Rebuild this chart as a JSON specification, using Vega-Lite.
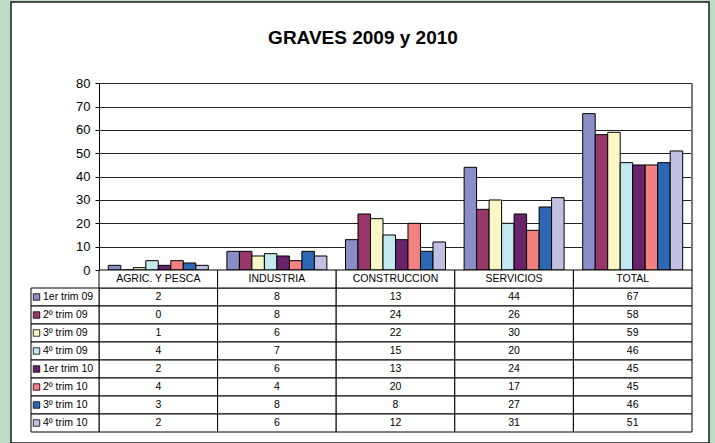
{
  "$schema": "https://vega.github.io/schema/vega-lite/v6.json",
  "width": 698,
  "height": 441,
  "autosize": {"type": "none"},
  "padding": {"left": 11, "top": 2, "right": 6, "bottom": 0},
  "background": "#bfdcc6",
  "view": {"fill": "white", "stroke": "#1a1a1a", "strokeWidth": 1.5},
  "config": {"font": "Liberation Sans", "text": {"font": "Liberation Sans", "color": "black"}},
  "title": {
    "text": "GRAVES 2009 y 2010",
    "frame": "group",
    "anchor": "middle",
    "offset": -61,
    "dx": 3,
    "fontSize": 19,
    "fontWeight": "bold",
    "font": "Liberation Sans",
    "color": "black",
    "baseline": "alphabetic"
  },
  "datasets": {
    "graves": [
      {"cat": "AGRIC. Y PESCA", "serie": "1er trim 09", "valor": 2},
      {"cat": "AGRIC. Y PESCA", "serie": "2º trim 09", "valor": 0},
      {"cat": "AGRIC. Y PESCA", "serie": "3º trim 09", "valor": 1},
      {"cat": "AGRIC. Y PESCA", "serie": "4º trim 09", "valor": 4},
      {"cat": "AGRIC. Y PESCA", "serie": "1er trim 10", "valor": 2},
      {"cat": "AGRIC. Y PESCA", "serie": "2º trim 10", "valor": 4},
      {"cat": "AGRIC. Y PESCA", "serie": "3º trim 10", "valor": 3},
      {"cat": "AGRIC. Y PESCA", "serie": "4º trim 10", "valor": 2},
      {"cat": "INDUSTRIA", "serie": "1er trim 09", "valor": 8},
      {"cat": "INDUSTRIA", "serie": "2º trim 09", "valor": 8},
      {"cat": "INDUSTRIA", "serie": "3º trim 09", "valor": 6},
      {"cat": "INDUSTRIA", "serie": "4º trim 09", "valor": 7},
      {"cat": "INDUSTRIA", "serie": "1er trim 10", "valor": 6},
      {"cat": "INDUSTRIA", "serie": "2º trim 10", "valor": 4},
      {"cat": "INDUSTRIA", "serie": "3º trim 10", "valor": 8},
      {"cat": "INDUSTRIA", "serie": "4º trim 10", "valor": 6},
      {"cat": "CONSTRUCCION", "serie": "1er trim 09", "valor": 13},
      {"cat": "CONSTRUCCION", "serie": "2º trim 09", "valor": 24},
      {"cat": "CONSTRUCCION", "serie": "3º trim 09", "valor": 22},
      {"cat": "CONSTRUCCION", "serie": "4º trim 09", "valor": 15},
      {"cat": "CONSTRUCCION", "serie": "1er trim 10", "valor": 13},
      {"cat": "CONSTRUCCION", "serie": "2º trim 10", "valor": 20},
      {"cat": "CONSTRUCCION", "serie": "3º trim 10", "valor": 8},
      {"cat": "CONSTRUCCION", "serie": "4º trim 10", "valor": 12},
      {"cat": "SERVICIOS", "serie": "1er trim 09", "valor": 44},
      {"cat": "SERVICIOS", "serie": "2º trim 09", "valor": 26},
      {"cat": "SERVICIOS", "serie": "3º trim 09", "valor": 30},
      {"cat": "SERVICIOS", "serie": "4º trim 09", "valor": 20},
      {"cat": "SERVICIOS", "serie": "1er trim 10", "valor": 24},
      {"cat": "SERVICIOS", "serie": "2º trim 10", "valor": 17},
      {"cat": "SERVICIOS", "serie": "3º trim 10", "valor": 27},
      {"cat": "SERVICIOS", "serie": "4º trim 10", "valor": 31},
      {"cat": "TOTAL", "serie": "1er trim 09", "valor": 67},
      {"cat": "TOTAL", "serie": "2º trim 09", "valor": 58},
      {"cat": "TOTAL", "serie": "3º trim 09", "valor": 59},
      {"cat": "TOTAL", "serie": "4º trim 09", "valor": 46},
      {"cat": "TOTAL", "serie": "1er trim 10", "valor": 45},
      {"cat": "TOTAL", "serie": "2º trim 10", "valor": 45},
      {"cat": "TOTAL", "serie": "3º trim 10", "valor": 46},
      {"cat": "TOTAL", "serie": "4º trim 10", "valor": 51}
    ],
    "categorias": [
      {"cat": "AGRIC. Y PESCA"}, {"cat": "INDUSTRIA"}, {"cat": "CONSTRUCCION"}, {"cat": "SERVICIOS"}, {"cat": "TOTAL"}
    ],
    "series": [
      {"serie": "1er trim 09"}, {"serie": "2º trim 09"}, {"serie": "3º trim 09"}, {"serie": "4º trim 09"},
      {"serie": "1er trim 10"}, {"serie": "2º trim 10"}, {"serie": "3º trim 10"}, {"serie": "4º trim 10"}
    ]
  },
  "layer": [
    {
      "data": {"name": "graves"},
      "mark": {"type": "bar", "stroke": "black", "strokeWidth": 1},
      "encoding": {
        "x": {"field": "cat", "type": "nominal", "sort": null,
          "scale": {"domain": ["AGRIC. Y PESCA", "INDUSTRIA", "CONSTRUCCION", "SERVICIOS", "TOTAL"], "range": [88, 681], "paddingInner": 0.157, "paddingOuter": 0.0785},
          "axis": null},
        "xOffset": {"field": "serie", "type": "nominal", "sort": null,
          "scale": {"domain": ["1er trim 09", "2º trim 09", "3º trim 09", "4º trim 09", "1er trim 10", "2º trim 10", "3º trim 10", "4º trim 10"], "paddingInner": 0, "paddingOuter": 0}},
        "y": {"field": "valor", "type": "quantitative",
          "scale": {"domain": [0, 80], "range": [268, 81.3], "nice": false, "zero": true},
          "axis": {"values": [0, 10, 20, 30, 40, 50, 60, 70, 80], "offset": -88, "title": null, "grid": true,
            "gridColor": "#222222", "gridWidth": 1, "domainColor": "black", "domainWidth": 1, "tickColor": "black",
            "tickSize": 4, "labelFontSize": 13, "labelColor": "black", "labelPadding": 5, "labelFont": "Liberation Sans"}},
        "color": {"field": "serie", "type": "nominal",
          "scale": {"domain": ["1er trim 09", "2º trim 09", "3º trim 09", "4º trim 09", "1er trim 10", "2º trim 10", "3º trim 10", "4º trim 10"],
            "range": ["#8a8ec6", "#98386a", "#faf7c6", "#c3e7ef", "#68236b", "#f28181", "#2d67b3", "#c2c0e0"]},
          "legend": null}
      }
    },
    {
      "data": {"values": [{}]},
      "mark": {"type": "rule", "stroke": "#7a7a7a", "strokeWidth": 2},
      "encoding": {
        "x": {"datum": 1, "type": "quantitative", "scale": {"domain": [0, 1], "range": [88, 681]}, "axis": null},
        "y": {"datum": 0, "type": "quantitative", "scale": {"domain": [0, 80], "range": [268, 81.3], "nice": false}, "axis": null},
        "y2": {"datum": 80}
      }
    },
    {
      "data": {"name": "graves"},
      "mark": {"type": "rect", "fill": "white", "stroke": "black", "strokeWidth": 1},
      "encoding": {
        "x": {"field": "cat", "type": "nominal", "sort": null,
          "scale": {"domain": ["AGRIC. Y PESCA", "INDUSTRIA", "CONSTRUCCION", "SERVICIOS", "TOTAL"], "range": [88, 681], "paddingInner": 0, "paddingOuter": 0}, "axis": null},
        "y": {"field": "serie", "type": "nominal", "sort": null,
          "scale": {"domain": ["1er trim 09", "2º trim 09", "3º trim 09", "4º trim 09", "1er trim 10", "2º trim 10", "3º trim 10", "4º trim 10"], "range": [286, 430], "paddingInner": 0, "paddingOuter": 0}, "axis": null}
      }
    },
    {
      "data": {"name": "graves"},
      "mark": {"type": "text", "fontSize": 10.5, "font": "Liberation Sans", "color": "black", "align": "center", "baseline": "middle"},
      "encoding": {
        "x": {"field": "cat", "type": "nominal", "sort": null,
          "scale": {"domain": ["AGRIC. Y PESCA", "INDUSTRIA", "CONSTRUCCION", "SERVICIOS", "TOTAL"], "range": [88, 681], "paddingInner": 0, "paddingOuter": 0}, "axis": null},
        "y": {"field": "serie", "type": "nominal", "sort": null,
          "scale": {"domain": ["1er trim 09", "2º trim 09", "3º trim 09", "4º trim 09", "1er trim 10", "2º trim 10", "3º trim 10", "4º trim 10"], "range": [286, 430], "paddingInner": 0, "paddingOuter": 0}, "axis": null},
        "text": {"field": "valor", "type": "quantitative"}
      }
    },
    {
      "data": {"name": "categorias"},
      "mark": {"type": "rect", "fill": "white", "stroke": "black", "strokeWidth": 1},
      "encoding": {
        "x": {"field": "cat", "type": "nominal", "sort": null,
          "scale": {"domain": ["AGRIC. Y PESCA", "INDUSTRIA", "CONSTRUCCION", "SERVICIOS", "TOTAL"], "range": [88, 681], "paddingInner": 0, "paddingOuter": 0}, "axis": null},
        "y": {"datum": "cabecera", "type": "nominal", "scale": {"domain": ["cabecera"], "range": [268, 286], "paddingInner": 0, "paddingOuter": 0}, "axis": null}
      }
    },
    {
      "data": {"name": "categorias"},
      "mark": {"type": "text", "fontSize": 10.5, "font": "Liberation Sans", "color": "black", "align": "center", "baseline": "middle"},
      "encoding": {
        "x": {"field": "cat", "type": "nominal", "sort": null,
          "scale": {"domain": ["AGRIC. Y PESCA", "INDUSTRIA", "CONSTRUCCION", "SERVICIOS", "TOTAL"], "range": [88, 681], "paddingInner": 0, "paddingOuter": 0}, "axis": null},
        "y": {"datum": "cabecera", "type": "nominal", "scale": {"domain": ["cabecera"], "range": [268, 286], "paddingInner": 0, "paddingOuter": 0}, "axis": null},
        "text": {"field": "cat", "type": "nominal"}
      }
    },
    {
      "data": {"name": "series"},
      "mark": {"type": "rect", "fill": "white", "stroke": "black", "strokeWidth": 1},
      "encoding": {
        "x": {"datum": "leyenda", "type": "nominal", "scale": {"domain": ["leyenda"], "range": [20, 88], "paddingInner": 0, "paddingOuter": 0}, "axis": null},
        "y": {"field": "serie", "type": "nominal", "sort": null,
          "scale": {"domain": ["1er trim 09", "2º trim 09", "3º trim 09", "4º trim 09", "1er trim 10", "2º trim 10", "3º trim 10", "4º trim 10"], "range": [286, 430], "paddingInner": 0, "paddingOuter": 0}, "axis": null}
      }
    },
    {
      "data": {"name": "series"},
      "mark": {"type": "point", "shape": "square", "filled": true, "size": 42, "stroke": "black", "strokeWidth": 0.8, "opacity": 1, "xOffset": -28.5},
      "encoding": {
        "x": {"datum": "leyenda", "type": "nominal", "scale": {"domain": ["leyenda"], "range": [20, 88], "paddingInner": 0, "paddingOuter": 0}, "axis": null},
        "y": {"field": "serie", "type": "nominal", "sort": null,
          "scale": {"domain": ["1er trim 09", "2º trim 09", "3º trim 09", "4º trim 09", "1er trim 10", "2º trim 10", "3º trim 10", "4º trim 10"], "range": [286, 430], "paddingInner": 0, "paddingOuter": 0}, "axis": null},
        "color": {"field": "serie", "type": "nominal",
          "scale": {"domain": ["1er trim 09", "2º trim 09", "3º trim 09", "4º trim 09", "1er trim 10", "2º trim 10", "3º trim 10", "4º trim 10"],
            "range": ["#8a8ec6", "#98386a", "#faf7c6", "#c3e7ef", "#68236b", "#f28181", "#2d67b3", "#c2c0e0"]},
          "legend": null}
      }
    },
    {
      "data": {"name": "series"},
      "mark": {"type": "text", "fontSize": 10.5, "font": "Liberation Sans", "color": "black", "align": "left", "baseline": "middle", "dx": -22},
      "encoding": {
        "x": {"datum": "leyenda", "type": "nominal", "scale": {"domain": ["leyenda"], "range": [20, 88], "paddingInner": 0, "paddingOuter": 0}, "axis": null},
        "y": {"field": "serie", "type": "nominal", "sort": null,
          "scale": {"domain": ["1er trim 09", "2º trim 09", "3º trim 09", "4º trim 09", "1er trim 10", "2º trim 10", "3º trim 10", "4º trim 10"], "range": [286, 430], "paddingInner": 0, "paddingOuter": 0}, "axis": null},
        "text": {"field": "serie", "type": "nominal"}
      }
    }
  ],
  "resolve": {"scale": {"x": "independent", "y": "independent"}}
}
